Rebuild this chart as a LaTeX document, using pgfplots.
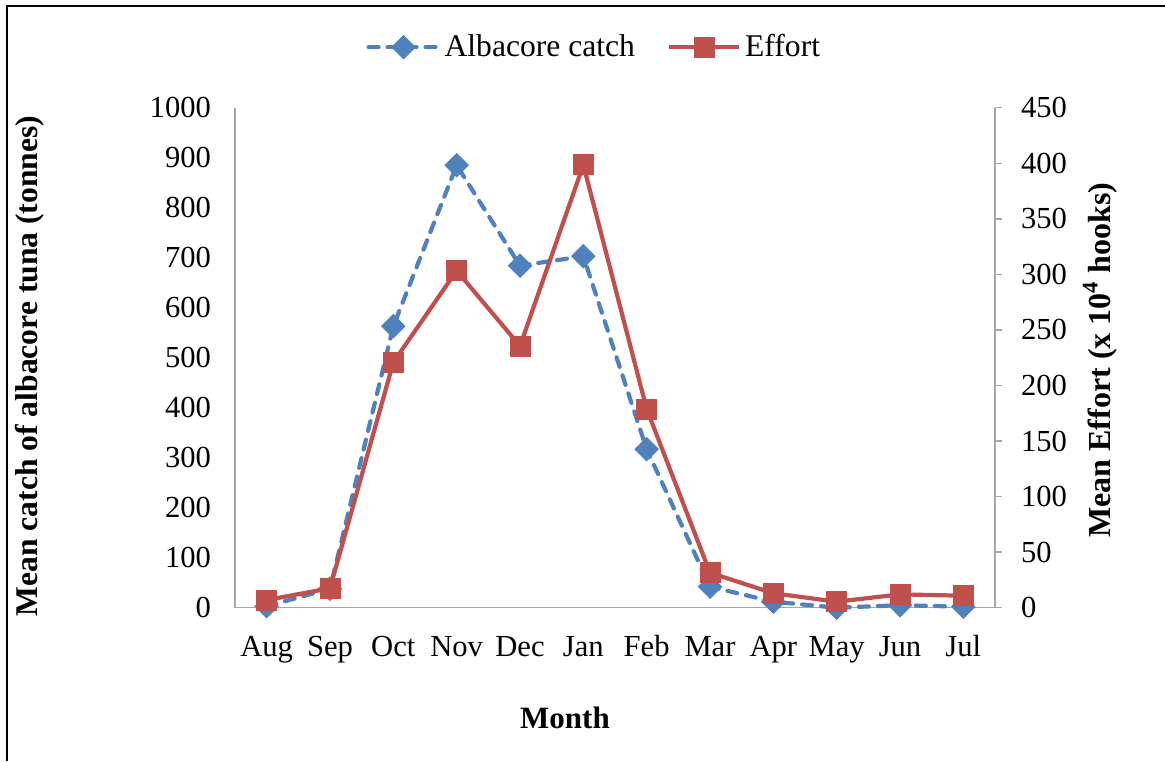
\documentclass[border=0pt]{standalone}
\usepackage{fontspec}
\setmainfont{Liberation Serif}
\usepackage{pgfplots}
\usepackage{pgfplotstable}
\pgfplotsset{compat=1.18}

\definecolor{catchblue}{HTML}{4F81BD}
\definecolor{effortred}{HTML}{C0504D}
\definecolor{axisgray}{HTML}{A6A6A6}

% month index, mean catch (tonnes), mean effort (x 10^4 hooks)
\pgfplotstableread{
idx catch effort
0   3     6.9
1   38    17.5
2   563   220.9
3   885   303.3
4   684   235.5
5   703   398.5
6   317   178.8
7   42    31.5
8   12    13.0
9   0     5.4
10  5     12.0
11  2     10.8
}\fishdata

\pgfplotsset{
  catchline/.style={color=catchblue, line width=2.1pt, dash pattern=on 5pt off 4.5pt,
    line cap=round, mark=square*, mark size=4.1pt,
    mark options={solid, rotate=45, fill=catchblue, draw=catchblue, line width=0.5pt}},
  effortline/.style={color=effortred, line width=2.1pt, mark=square*, mark size=5pt,
    mark options={solid, fill=effortred, draw=effortred, line width=0.5pt}},
  common/.style={
    scale only axis, width=380pt, height=250pt,
    at={(117.5pt,76.65pt)}, anchor=south west,
    xmin=-0.5, xmax=11.5, clip=false,
    axis line style={axisgray, line width=0.75pt},
    tick style={axisgray, line width=0.75pt},
    /pgf/number format/assume math mode=true,
    /pgf/number format/1000 sep={},
    ticklabel style={font=\fontsize{15.3}{18}\selectfont},
  },
}

\begin{document}
\begin{tikzpicture}[x=0.5pt,y=0.5pt]
\path[use as bounding box] (0,0) rectangle (1165,761);
\draw[line width=1.1pt] (7,0) -- (7,755) -- (1165,755);

\begin{axis}[common,
  axis x line*=bottom, axis y line*=left,
  ymin=0, ymax=1000, ytick={0,100,...,1000},
  xtick={0,...,11},
  xticklabels={Aug,Sep,Oct,Nov,Dec,Jan,Feb,Mar,Apr,May,Jun,Jul},
  major tick length=0pt,
  yticklabel style={xshift=-8.5pt},
  xticklabel style={yshift=-14pt, text height=1.5ex, text depth=0.4ex},
]
\addplot[catchline] table[x=idx, y=catch] {\fishdata};
\end{axis}

\begin{axis}[common,
  axis x line=none, axis y line*=right,
  ymin=0, ymax=450, ytick={0,50,...,450},
  tick align=outside, major tick length=3.5pt,
  yticklabel style={xshift=6pt},
  legend columns=2,
  legend style={at={(axis description cs:0.474,1.121)}, anchor=center,
    draw=none, fill=none, font=\fontsize{15.8}{19}\selectfont,
    /tikz/every even column/.append style={column sep=14pt}},
  legend image code/.code={\draw[mark repeat=2, mark phase=2, #1]
    plot coordinates {(0pt,0pt) (17.5pt,0pt) (35pt,0pt)};},
]
\addlegendimage{catchline}
\addlegendentry{Albacore catch}
\addplot[effortline] table[x=idx, y=effort] {\fishdata};
\addlegendentry{Effort}
\end{axis}

\node[rotate=90, font=\bfseries\fontsize{15.8}{19}\selectfont] at (30,395) {Mean catch of albacore tuna (tonnes)};
\node[rotate=90, font=\bfseries\fontsize{16}{19}\selectfont] at (1100,401) {Mean Effort (x 10\textsuperscript{4} hooks)};
\node[font=\bfseries\fontsize{15.5}{18}\selectfont] at (565,43) {Month};
\end{tikzpicture}
\end{document}
